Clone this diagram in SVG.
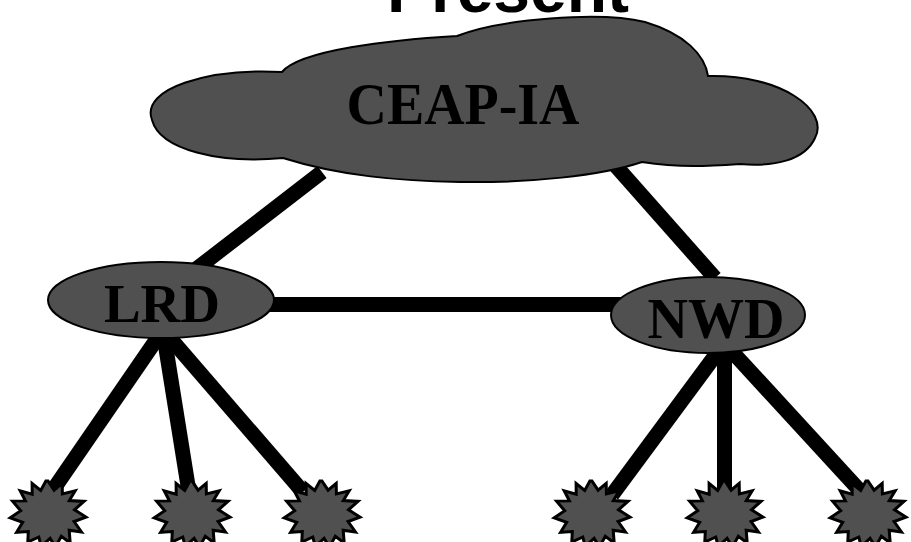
<svg xmlns="http://www.w3.org/2000/svg" width="911" height="542" viewBox="0 0 911 542">
<style>
.node{fill:#505050;stroke:#000;stroke-width:2}
.star{fill:#505050;stroke:#000;stroke-width:3;stroke-linejoin:miter}
.lbl{font-family:"Liberation Serif","Times New Roman",serif;font-weight:bold;fill:#000;text-anchor:middle}
.title{font-family:"Liberation Sans",Arial,sans-serif;font-weight:bold;fill:#000;text-anchor:middle}
#connectors line{stroke:#000;stroke-width:15;stroke-linecap:butt}
</style>
<defs>
<polygon id="burst" points="0,-33 6.1,-23.8 14.2,-30.6 14.4,-20.1 27.2,-23.2 21.3,-13.4 36,-12.6 26.5,-4.2 38,3.1 26.1,7.5 33.5,18 21.2,16.3 22.2,29 13.3,22.2 7.5,33 2.1,24.4 -6.8,32.5 -9.2,23 -20.2,28 -19.7,17.5 -31.4,18.3 -25.3,8.3 -37.8,3.8 -27.3,-3.2 -35.4,-12.9 -22.6,-13.1 -27.8,-23.2 -15.8,-19.8 -15.9,-30.5 -7.3,-23.6 -2.1,-33 0,-33"/>
</defs>
<g id="title"><text class="title" x="508" y="12" font-size="66">Present</text></g>
<g id="connectors">
<line x1="322" y1="172" x2="195" y2="270"/>
<line x1="615" y1="165" x2="715" y2="278"/>
<line x1="260" y1="304.5" x2="625" y2="304.5"/>
<line x1="163" y1="330" x2="53" y2="490"/>
<line x1="163" y1="330" x2="189" y2="492"/>
<line x1="163" y1="330" x2="303" y2="492"/>
<line x1="723" y1="345" x2="612" y2="495"/>
<line x1="724.5" y1="345" x2="724.5" y2="495"/>
<line x1="726" y1="345" x2="862" y2="493"/>
</g>
<g id="cloud">
<path class="node" d="M152,120 C140,88 210,68 282,72 C300,50 390,40 457,36 C500,19 600,11 645,22 C685,34 705,55 708,76 C780,74 830,110 815,138 C805,160 775,167 740,164 C710,166 680,168 642,162 C600,176 530,183 460,182 C400,181 340,176 283,158 C220,164 160,150 152,120 Z"/>
<text class="lbl" x="463" y="124" font-size="60" textLength="233" lengthAdjust="spacingAndGlyphs">CEAP-IA</text>
</g>
<g id="lrd">
<ellipse class="node" cx="161" cy="300" rx="113" ry="38"/>
<text class="lbl" x="162" y="322" font-size="55">LRD</text>
</g>
<g id="nwd">
<ellipse class="node" cx="708" cy="315" rx="97" ry="38"/>
<text class="lbl" x="716" y="338" font-size="56">NWD</text>
</g>
<g id="s1"><use href="#burst" class="star" x="48" y="514"/></g>
<g id="s2"><use href="#burst" class="star" x="192" y="514"/></g>
<g id="s3"><use href="#burst" class="star" x="322" y="514"/></g>
<g id="s4"><use href="#burst" class="star" x="592" y="514"/></g>
<g id="s5"><use href="#burst" class="star" x="725" y="514"/></g>
<g id="s6"><use href="#burst" class="star" x="868" y="514"/></g>
</svg>
